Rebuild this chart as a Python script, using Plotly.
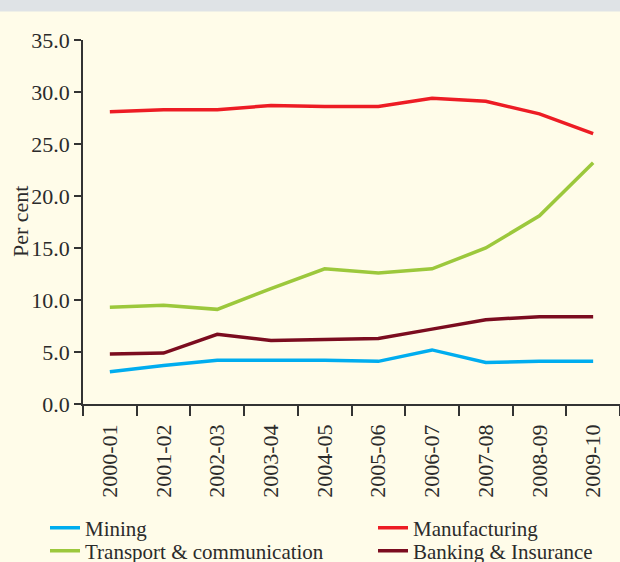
import plotly.graph_objects as go

years = ["2000-01", "2001-02", "2002-03", "2003-04", "2004-05",
         "2005-06", "2006-07", "2007-08", "2008-09", "2009-10"]
mining = [3.1, 3.7, 4.2, 4.2, 4.2, 4.1, 5.2, 4.0, 4.1, 4.1]
manufacturing = [28.1, 28.3, 28.3, 28.7, 28.6, 28.6, 29.4, 29.1, 27.9, 26.0]
transport = [9.3, 9.5, 9.1, 11.1, 13.0, 12.6, 13.0, 15.0, 18.1, 23.2]
banking = [4.8, 4.9, 6.7, 6.1, 6.2, 6.3, 7.2, 8.1, 8.4, 8.4]
y_ticks = [0, 5, 10, 15, 20, 25, 30, 35]

FONT = "Liberation Serif"
FS = 22
LFS = 21
TXT = "#2b2b2b"
BG = "#fffce9"
PLOT_W = 537
PLOT_H = 364
PLOT_BOTTOM = 404

fig = go.Figure()
series = [
    # name, values, colour, legend id, legend text-left px, row centre px
    ("Mining", mining, "#00adef", "legend", 45, 528),
    ("Manufacturing", manufacturing, "#ed1c24", "legend2", 373, 528),
    ("Transport & communication", transport, "#9cc83c", "legend3", 45, 551),
    ("Banking & Insurance", banking, "#7b0c1f", "legend4", 373, 551),
]
legends = {}
for name, vals, col, lg, lx, ly in series:
    fig.add_trace(go.Scatter(x=years, y=vals, name=name, mode="lines",
                             line=dict(color=col, width=3.5), legend=lg))
    legends[lg] = dict(x=(lx - 83) / PLOT_W, y=-(ly - PLOT_BOTTOM) / PLOT_H,
                       xanchor="left", yanchor="middle",
                       bgcolor="rgba(0,0,0,0)",
                       font=dict(family=FONT, size=LFS, color=TXT),
                       tracegroupgap=0, borderwidth=0)

fig.update_layout(
    width=620, height=562,
    margin=dict(l=83, r=0, t=40, b=158, autoexpand=False),
    paper_bgcolor=BG, plot_bgcolor=BG,
    font=dict(family=FONT, size=FS, color=TXT),
    showlegend=True,
    **legends,
    xaxis=dict(type="category", range=[-0.5, 9.5], showgrid=False,
               automargin=False,
               showline=True, linecolor="#333333", linewidth=1.5,
               ticks="outside", tickson="boundaries", ticklen=10,
               tickcolor="#333333", tickwidth=1.5, tickangle=-90,
               ticklabelstandoff=10,
               tickfont=dict(family=FONT, size=FS, color=TXT), zeroline=False),
    yaxis=dict(range=[0, 35], tickvals=y_ticks, tickformat=".1f",
               automargin=False,
               showgrid=False, showline=True, linecolor="#333333",
               linewidth=1.5, ticks="outside", ticklen=7, tickcolor="#333333",
               tickwidth=1.5, zeroline=False,
               tickfont=dict(family=FONT, size=FS, color=TXT)),
    annotations=[dict(text="Per cent", xref="paper", yref="paper",
                      x=(20 - 83) / PLOT_W, y=0.5, textangle=-90,
                      showarrow=False, xanchor="center", yanchor="middle",
                      font=dict(family=FONT, size=FS, color=TXT))],
)

# top grey band of the page
fig.add_shape(type="rect", xref="paper", yref="paper",
              x0=-0.2, x1=1.05, y0=1 + 28.5 / PLOT_H, y1=1 + 40 / PLOT_H,
              fillcolor="#dfe3e6", line=dict(width=0), layer="below")

fig.write_html("out.html", config={"displayModeBar": False},
               post_script="document.body.style.margin='0';")
